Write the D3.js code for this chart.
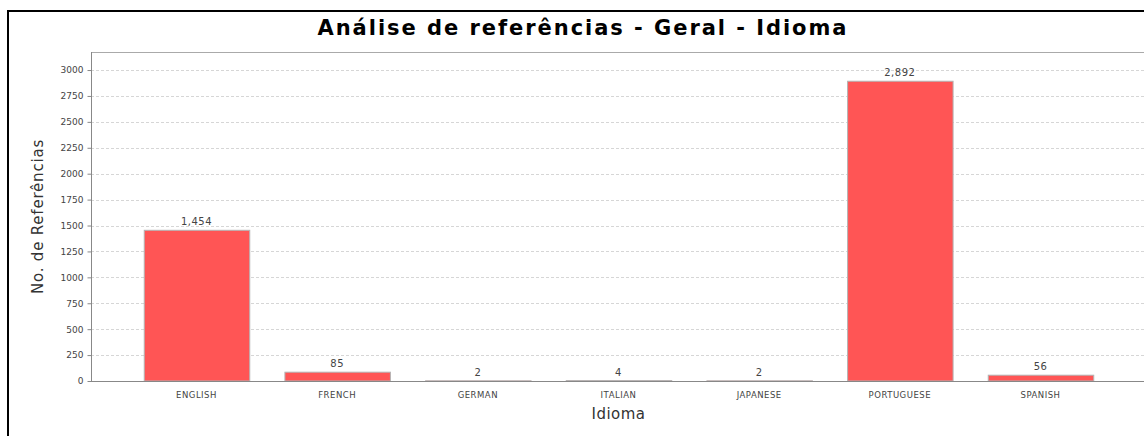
<!DOCTYPE html>
<html><head><meta charset="utf-8">
<script src="https://cdn.jsdelivr.net/npm/d3@7"></script>
<style>body{margin:0;background:#fff;}svg{display:block;}</style>
</head><body>
<svg id="c" width="1144" height="436"></svg>
<script>
const categories = ["ENGLISH","FRENCH","GERMAN","ITALIAN","JAPANESE","PORTUGUESE","SPANISH"];
const values = [1454, 85, 2, 4, 2, 2892, 56];
const yTicks = [0,250,500,750,1000,1250,1500,1750,2000,2250,2500,2750,3000];
const title = "Análise de referências - Geral - Idioma";
const xTitle = "Idioma";
const yTitle = "No. de Referências";

const svg = d3.select("#c");
const L = 91, R = 1146, T = 52, B = 381;

// outer border
svg.append("path").attr("d","M8,436 V11 H1144").attr("fill","none").attr("stroke","#000").attr("stroke-width",2);

svg.append("text").attr("x",582).attr("y",35).attr("text-anchor","middle")
  .attr("font-family","DejaVu Sans").attr("font-weight","bold").attr("font-size",21)
  .attr("textLength",529).attr("lengthAdjust","spacing")
  .attr("fill","#000").text(title);

const y = d3.scaleLinear().domain([0,3174]).range([B,T]);
// JFreeChart style: lower/upper margin 5%, category margin 20%
const W = R - L;
const barW = W*0.7/categories.length;
const gap = W*0.2/(categories.length-1);
const xPos = d3.scaleLinear().domain([0,categories.length-1]).range([L+W*0.05, L+W*0.05+(categories.length-1)*(barW+gap)]);
const xs = d3.scaleOrdinal().domain(categories).range(categories.map((c,i)=>xPos(i)));

// grid
svg.append("g").selectAll("line").data(yTicks.filter(d=>d>0)).join("line")
  .attr("x1",L).attr("x2",R).attr("y1",d=>Math.round(y(d))+0.5).attr("y2",d=>Math.round(y(d))+0.5)
  .attr("stroke","#d6d6d6").attr("stroke-width",1).attr("stroke-dasharray","3,2");

// plot top outline
svg.append("line").attr("x1",L).attr("x2",R).attr("y1",T+0.5).attr("y2",T+0.5).attr("stroke","#aaa");

// bars
svg.append("g").selectAll("rect").data(values).join("rect")
  .attr("x",(d,i)=>xs(categories[i])+0.5).attr("width",barW)
  .attr("y",d=>y(d)).attr("height",d=>B-y(d))
  .attr("fill","#ff5555").attr("stroke","#b4b4b4").attr("stroke-width",1);

// value labels
svg.append("g").selectAll("text").data(values).join("text")
  .attr("x",(d,i)=>xs(categories[i])+barW/2).attr("y",d=>y(d)-5)
  .attr("text-anchor","middle").attr("font-family","DejaVu Sans").attr("font-size",10)
  .attr("letter-spacing",0.5).attr("fill","#444")
  .text(d=>d3.format(",")(d));

// y axis
const ya = d3.axisLeft(y).tickValues(yTicks).tickSize(4).tickPadding(4).tickFormat(d3.format("d"));
const gy = svg.append("g").attr("transform",`translate(${L+0.5},0)`).call(ya);
gy.select(".domain").attr("stroke","#888").attr("d",`M0,${T}V${B}`);
gy.selectAll(".tick line").attr("stroke","#888");
gy.selectAll(".tick text").attr("font-family","DejaVu Sans").attr("font-size",9).attr("fill","#444");

// x axis baseline
svg.append("line").attr("x1",L).attr("x2",R).attr("y1",B+0.5).attr("y2",B+0.5).attr("stroke","#888");
svg.append("g").selectAll("text").data(categories).join("text")
  .attr("x",c=>xs(c)+barW/2).attr("y",398).attr("text-anchor","middle")
  .attr("font-family","DejaVu Sans").attr("font-size",8.5).attr("letter-spacing",0.5)
  .attr("fill","#444").text(c=>c);

svg.append("text").attr("x",(L+R)/2).attr("y",419).attr("text-anchor","middle")
  .attr("font-family","DejaVu Sans").attr("font-size",15).attr("letter-spacing",0.5)
  .attr("fill","#333").text(xTitle);
svg.append("text").attr("transform",`translate(43,${(T+B)/2}) rotate(-90)`).attr("text-anchor","middle")
  .attr("font-family","DejaVu Sans").attr("font-size",15).attr("letter-spacing",0.8)
  .attr("fill","#333").text(yTitle);
</script>
</body></html>
